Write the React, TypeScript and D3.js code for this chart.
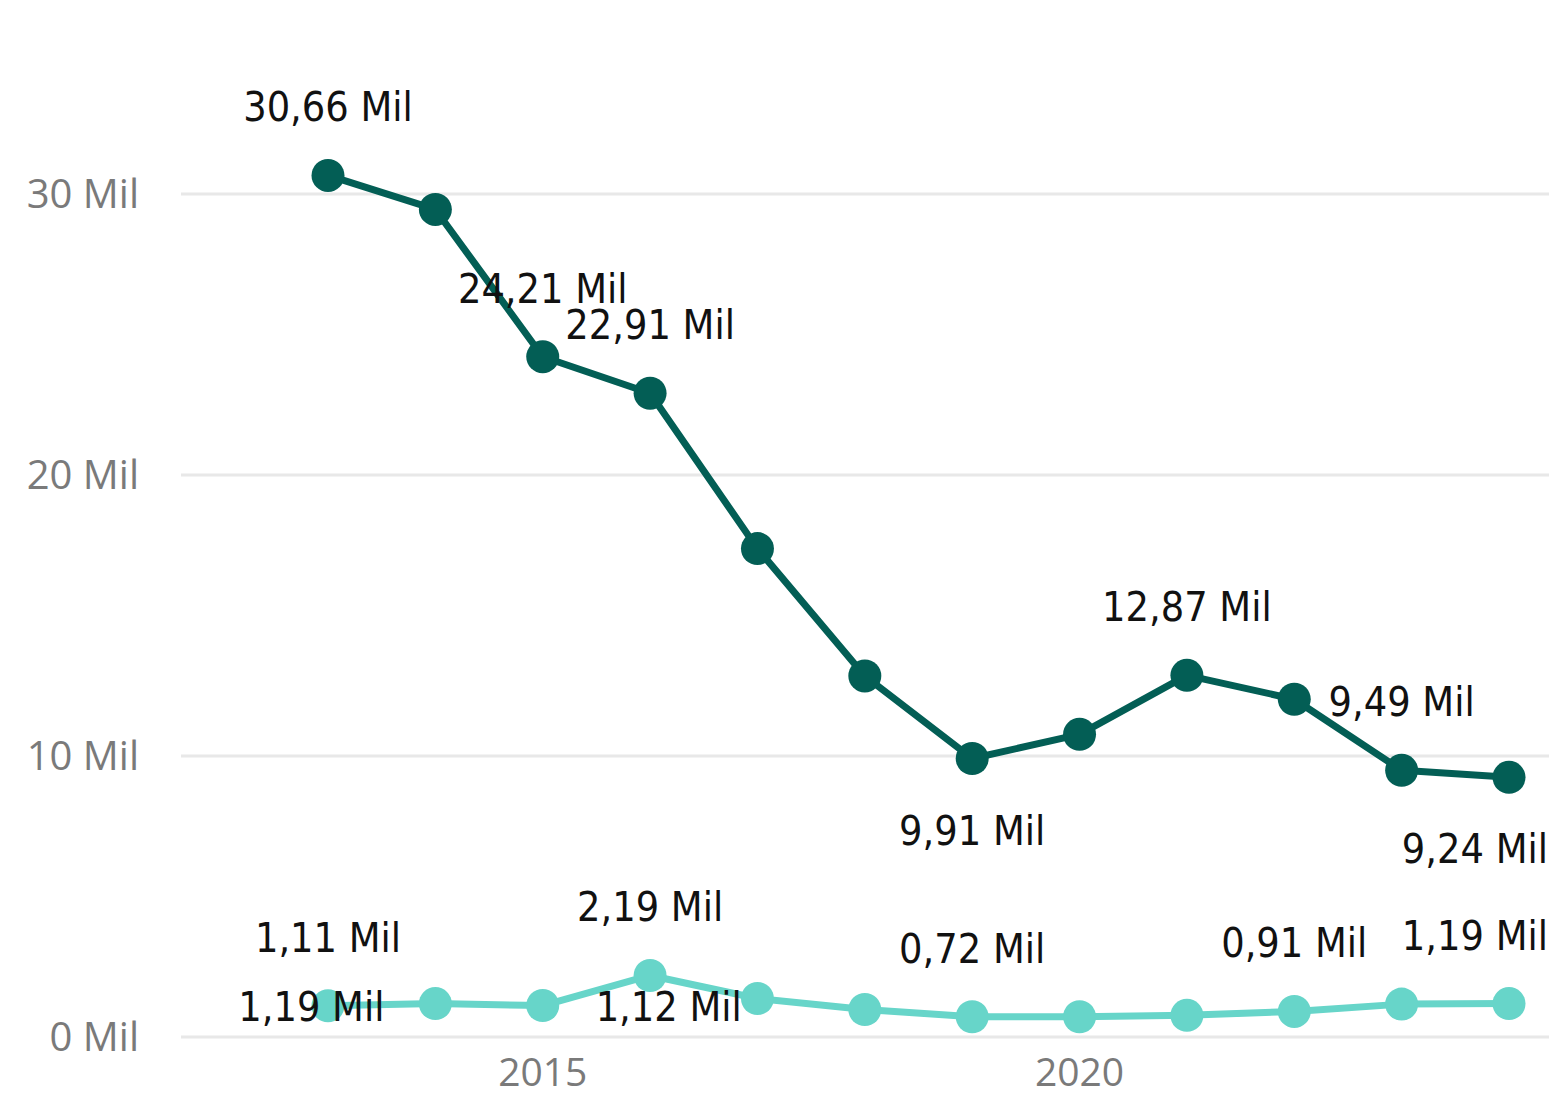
import * as d3 from "d3";
import { useRef, useEffect } from "react";

// years on the x axis
const years = [2013, 2014, 2015, 2016, 2017, 2018, 2019, 2020, 2021, 2022, 2023, 2024];

// dark series (Mil)
const darkValues = [30.66, 29.45, 24.21, 22.91, 17.38, 12.85, 9.91, 10.77, 12.87, 12.02, 9.49, 9.24];

// light series (Mil)
const lightValues = [1.11, 1.19, 1.12, 2.19, 1.37, 0.98, 0.72, 0.72, 0.77, 0.91, 1.17, 1.19];

const yTicks = [0, 10, 20, 30];
const xTicks = [2015, 2020];

// which points carry a data label and where it sits
const darkLabels = [
  { year: 2013, pos: "above" },
  { year: 2015, pos: "above" },
  { year: 2016, pos: "above" },
  { year: 2019, pos: "below" },
  { year: 2021, pos: "above" },
  { year: 2023, pos: "above" },
  { year: 2024, pos: "below" },
];
const lightLabels = [
  { year: 2013, pos: "above" },
  { year: 2014, pos: "shift", dx: -124, dy: 17 },
  { year: 2015, pos: "shift", dx: 126, dy: 15 },
  { year: 2016, pos: "above" },
  { year: 2019, pos: "above" },
  { year: 2022, pos: "above" },
  { year: 2024, pos: "above" },
];

const DARK = "#035E55";
const LIGHT = "#67D5C9";

const width = 1552;
const height = 1096;
const gridLeft = 181;
const gridRight = 1549;
const labelRightLimit = 1548;

const fmt = (v: number) => d3.format(".2f")(v).replace(".", ",") + " Mil";

export default function App() {
  const labelsRef = useRef<SVGGElement | null>(null);

  const x = d3.scalePoint<number>().domain(years).range([328, 1509]);
  const y = d3.scaleLinear().domain([0, 30]).range([1037, 194]);

  const line = d3
    .line<number>()
    .x((_, i) => x(years[i])!)
    .y((d) => y(d));

  const series = [
    { values: darkValues, color: DARK, labels: darkLabels },
    { values: lightValues, color: LIGHT, labels: lightLabels },
  ];

  // data labels via d3 so they can be kept inside the right edge
  useEffect(() => {
    if (!labelsRef.current) return;
    const g = d3.select(labelsRef.current);
    g.selectAll("*").remove();
    series.forEach((s) => {
      s.labels.forEach((l: any) => {
        const i = years.indexOf(l.year);
        const px = x(l.year)!;
        const py = y(s.values[i]);
        let tx = px;
        let ty = py - 54;
        if (l.pos === "below") ty = py + 86;
        if (l.pos === "shift") {
          tx = px + l.dx;
          ty = py + l.dy;
        }
        const t = g
          .append("text")
          .attr("x", tx)
          .attr("y", ty)
          .attr("text-anchor", "middle")
          .text(fmt(s.values[i]));
        const w = (t.node() as SVGTextElement).getComputedTextLength();
        if (tx + w / 2 > labelRightLimit) t.attr("x", labelRightLimit - w / 2);
      });
    });
  });

  return (
    <div style={{ position: "absolute", left: 0, top: 0 }}>
      <svg width={width} height={height} style={{ display: "block", background: "#fff" }}>
        {/* gridlines + y labels */}
        <g>
          {yTicks.map((t) => (
            <g key={t}>
              <line x1={gridLeft} x2={gridRight} y1={y(t)} y2={y(t)} stroke="#E8E8E8" strokeWidth={3} />
              <text
                x={139}
                y={y(t) + 14}
                textAnchor="end"
                fill="#7A7A7A"
                fontSize={40}
                fontFamily="'Open Sans', 'DejaVu Sans', sans-serif"
              >
                {t} Mil
              </text>
            </g>
          ))}
        </g>
        {/* x labels */}
        <g>
          {xTicks.map((t) => (
            <text
              key={t}
              x={x(t)}
              y={1086}
              textAnchor="middle"
              fill="#7A7A7A"
              fontSize={39}
              fontFamily="'Open Sans', 'DejaVu Sans', sans-serif"
            >
              {t}
            </text>
          ))}
        </g>
        {/* lines and markers */}
        {series.map((s, si) => (
          <g key={si}>
            <path d={line(s.values) || ""} fill="none" stroke={s.color} strokeWidth={7} strokeLinejoin="round" />
            {s.values.map((v, i) => (
              <circle key={i} cx={x(years[i])} cy={y(v)} r={16.5} fill={s.color} />
            ))}
          </g>
        ))}
        {/* data labels */}
        <g
          ref={labelsRef}
          fill="#111"
          fontSize={41}
          fontFamily="'DejaVu Sans Condensed', 'Liberation Sans Narrow', 'DejaVu Sans', sans-serif"
          style={{ fontStretch: "condensed" }}
        />
      </svg>
    </div>
  );
}
